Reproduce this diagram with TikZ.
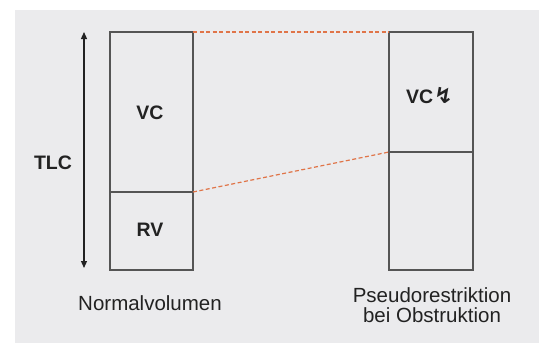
\documentclass[tikz,border=0pt]{standalone}
\usepackage{fontspec}
\setmainfont{Liberation Sans}
\newfontfamily\symfont{DejaVu Sans}
\usetikzlibrary{arrows.meta}
\definecolor{bg}{HTML}{EBEBED}
\definecolor{boxline}{HTML}{555555}
\definecolor{dashorange}{HTML}{E07448}
\definecolor{txt}{HTML}{222222}
\tikzset{
  volbox/.style={draw=boxline, line width=1.3pt, rectangle, inner sep=0pt, outer sep=0pt},
  lbl/.style={text=txt, font=\bfseries\fontsize{19.5}{22}\selectfont, inner sep=0pt},
  caption/.style={text=txt, font=\fontsize{20.5}{20}\selectfont, inner sep=0pt, align=center},
  link/.style={draw=dashorange, line width=1.2pt, dash pattern=on 4pt off 2.5pt},
  dimarrow/.style={draw=txt, line width=1.2pt, {Triangle[width=6pt,length=7pt]}-{Triangle[width=6pt,length=7pt]}}
}
\begin{document}
\begin{tikzpicture}[x=1pt,y=-1pt]
\useasboundingbox (0,0) rectangle (544,343);
\fill[bg] (15,10) rectangle (539,343);
% left column
\node[volbox, minimum width=83pt, minimum height=160pt, anchor=north west] (ltop) at (110,32) {};
\node[volbox, minimum width=83pt, minimum height=78pt, anchor=north west] (lbot) at (110,192) {};
% right column
\node[volbox, minimum width=84pt, minimum height=120pt, anchor=north west] (rtop) at (389,32) {};
\node[volbox, minimum width=84pt, minimum height=118pt, anchor=north west] (rbot) at (389,152) {};
% dashed links
\draw[link] (ltop.north east) -- (rtop.north west);
\draw[link] (ltop.south east) -- (rtop.south west);
% TLC arrow
\coordinate (tlctop) at (84,32);
\coordinate (tlcbot) at (84,268);
\draw[dimarrow] (tlctop) -- (tlcbot);
\node[lbl] (tlc) at (53,163) {TLC};
\node[lbl] (vc) at (150,113) {VC};
\node[lbl] (rv) at (150,230) {RV};
\node[lbl, anchor=west] (vc2) at (406,96) {VC\hspace{1pt}{\symfont\bfseries\fontsize{22}{22}\selectfont ↯}};
\node[caption] (cap1) at (150,303) {Normalvolumen};
\node[caption] (cap2) at (432,305) {Pseudorestriktion\\bei Obstruktion};
\end{tikzpicture}
\end{document}
